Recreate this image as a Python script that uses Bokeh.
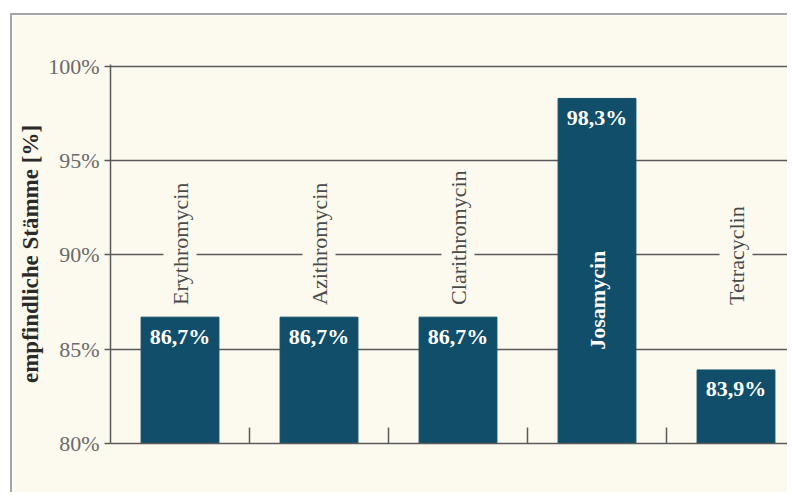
import math
from bokeh.plotting import figure
from bokeh.layouts import column, row
from bokeh.models import Range1d, FixedTicker, PrintfTickFormatter, ColumnDataSource, Spacer
from bokeh.core.properties import value
from bokeh.embed import file_html
from bokeh.resources import INLINE

# ---- data ----
categories = ["Erythromycin", "Azithromycin", "Clarithromycin", "Josamycin", "Tetracyclin"]
sensitive_pct = [86.7, 86.7, 86.7, 98.3, 83.9]
y_ticks = [80, 85, 90, 95, 100]

# ---- style ----
BAR = "#114e69"
CREAM = "#fcfaef"
GRID = "#5a5a5a"
FONT = "Liberation Serif"

n = len(categories)
xs = [i + 0.5 for i in range(n)]
value_text = [f"{v:.1f}".replace(".", ",") + "%" for v in sensitive_pct]
inside = [v > 93 for v in sensitive_pct]

OFF_X, OFF_Y = 10, 13
W, H = 787 - OFF_X, 492 - OFF_Y
p = figure(width=W, height=H, output_backend="svg", toolbar_location=None,
           x_range=Range1d(0, (W - 98) / 139), y_range=Range1d(80, 100.1),
           min_border_left=98, min_border_right=0, min_border_top=49, min_border_bottom=51)
p.background_fill_color = CREAM
p.border_fill_color = CREAM
p.outline_line_color = None
p.styles = {"border-top": "2px solid #a5a5a5", "border-left": "2px solid #a5a5a5"}

# y axis
ya = p.yaxis[0]
ya.ticker = FixedTicker(ticks=y_ticks)
ya.formatter = PrintfTickFormatter(format="%d%%")
ya.axis_label = "empfindliche Stämme [%]"
ya.axis_label_text_font = FONT
ya.axis_label_text_font_style = "bold"
ya.axis_label_text_font_size = "23px"
ya.axis_label_text_color = "#2a2a2a"
ya.axis_label_standoff = 2
ya.major_label_text_font = FONT
ya.major_label_text_font_size = "22px"
ya.major_label_text_color = "#6a6a6a"
ya.major_label_standoff = 5
ya.major_tick_out = 6
ya.major_tick_in = 0
ya.minor_tick_line_color = None
ya.axis_line_color = GRID
ya.axis_line_width = 1.5
ya.major_tick_line_color = GRID
ya.major_tick_line_width = 1.5

# x axis
xa = p.xaxis[0]
xa.ticker = FixedTicker(ticks=[1, 2, 3, 4])
xa.major_label_text_color = None
xa.major_tick_in = 16
xa.major_tick_out = 0
xa.minor_tick_line_color = None
xa.axis_line_color = GRID
xa.axis_line_width = 1.5
xa.major_tick_line_color = GRID
xa.major_tick_line_width = 1.5

p.xgrid.visible = False
p.ygrid.ticker = FixedTicker(ticks=y_ticks)
p.ygrid.grid_line_color = GRID
p.ygrid.grid_line_width = 1.5

src = ColumnDataSource(dict(x=xs, top=sensitive_pct, cat=categories, val=value_text))
p.vbar(x="x", top="top", bottom=80, width=0.56, source=src,
       fill_color=BAR, line_color=BAR)

# category labels (rotated, reading upwards)
out_src = ColumnDataSource(dict(
    x=[x for x, ins in zip(xs, inside) if not ins],
    y=[87.35 for ins in inside if not ins],
    t=[c for c, ins in zip(categories, inside) if not ins]))
in_src = ColumnDataSource(dict(
    x=[x for x, ins in zip(xs, inside) if ins],
    y=[87.6 for ins in inside if ins],
    t=[c for c, ins in zip(categories, inside) if ins]))

p.text(x="x", y="y", text="t", source=out_src, angle=math.pi / 2,
       text_align="left", text_baseline="middle",
       text_font=value(FONT), text_font_size="22px", text_color="#4a4a4a",
       background_fill_color=CREAM, padding=(0, 4))
p.text(x="x", y="y", text="t", source=in_src, angle=math.pi / 2,
       text_align="center", text_baseline="middle",
       text_font=value(FONT), text_font_size="22px", text_font_style="bold",
       text_color="white")

# value labels
p.text(x="x", y="top", text="val", source=src, y_offset=19,
       text_align="center", text_baseline="middle",
       text_font=value(FONT), text_font_size="22px", text_font_style="bold",
       text_color="white")

layout = column(Spacer(height=OFF_Y, width=787), row(Spacer(width=OFF_X, height=H), p))
open("out.html", "w").write(file_html(layout, INLINE))
